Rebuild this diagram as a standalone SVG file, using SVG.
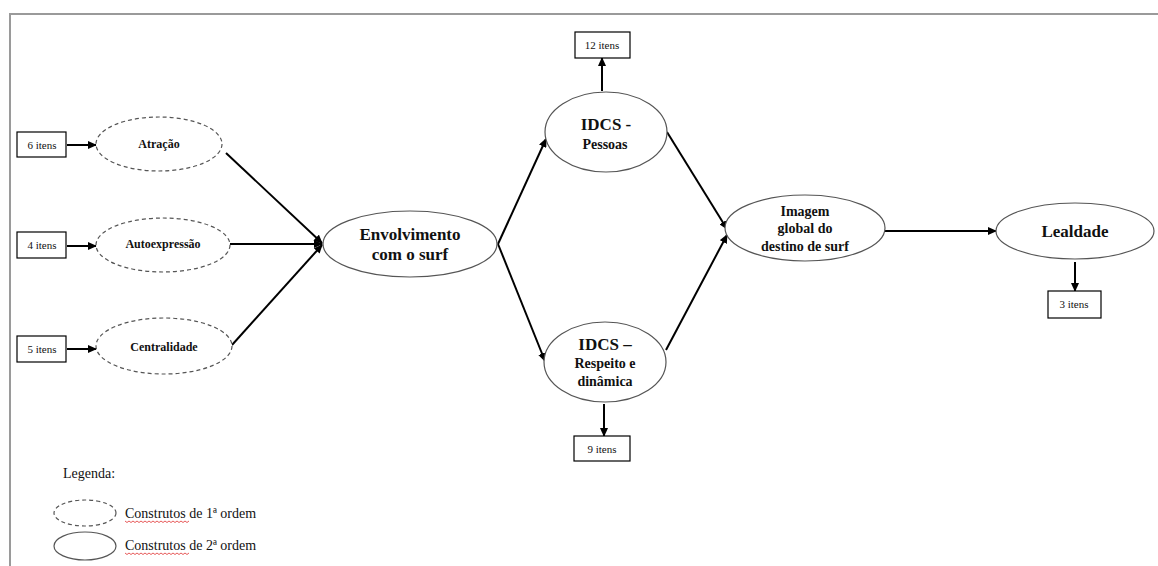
<svg xmlns="http://www.w3.org/2000/svg" width="1158" height="566" viewBox="0 0 1158 566">
  <defs>
    <marker id="arrow" markerWidth="9" markerHeight="8" refX="8" refY="4" orient="auto" markerUnits="userSpaceOnUse">
      <path d="M0,0 L9,4 L0,8 Z" fill="#000"/>
    </marker>
  </defs>
  <style>
    .frame { fill: none; stroke: #9a9a9a; stroke-width: 2; }
    .first { fill: #fff; stroke: #555; stroke-width: 1.2; stroke-dasharray: 4 3; }
    .second { fill: #fff; stroke: #555; stroke-width: 1.2; }
    .box { fill: #fff; stroke: #000; stroke-width: 1.2; }
    .edge { fill: none; stroke: #000; stroke-width: 2; marker-end: url(#arrow); }
    .line { fill: none; stroke: #000; stroke-width: 2; }
    text { font-family: "Liberation Serif", "Times New Roman", serif; fill: #111; text-anchor: middle; }
    .items { font-size: 11px; }
    .lbl1 { font-size: 12px; font-weight: bold; }
    .lbl2 { font-size: 14px; font-weight: bold; }
    .big { font-size: 17px; font-weight: bold; }
    .legend { font-size: 14px; text-anchor: start; }
    .squiggle { fill: none; stroke: #e03030; stroke-width: 0.8; }
  </style>

  <rect width="1158" height="566" fill="#fff"/>
  <path class="frame" d="M10,566 V14 H1158"/>

  <!-- connectors -->
  <g id="connectors">
    <line class="edge" x1="67" y1="145" x2="96" y2="145"/>
    <line class="edge" x1="67" y1="246" x2="96" y2="246"/>
    <line class="edge" x1="67" y1="349" x2="96" y2="349"/>
    <line class="edge" x1="226" y1="153" x2="322" y2="243"/>
    <line class="edge" x1="230" y1="244" x2="322" y2="244"/>
    <line class="edge" x1="232" y1="345" x2="322" y2="245"/>
    <line class="edge" x1="498" y1="244" x2="546" y2="139"/>
    <line class="edge" x1="498" y1="244" x2="545" y2="361"/>
    <line class="edge" x1="602" y1="91" x2="602" y2="58"/>
    <line class="edge" x1="604" y1="404" x2="604" y2="436"/>
    <line class="edge" x1="667" y1="132" x2="727" y2="229"/>
    <line class="edge" x1="666" y1="350" x2="727" y2="235"/>
    <line class="edge" x1="885" y1="231" x2="996" y2="231"/>
    <line class="edge" x1="1075" y1="262" x2="1075" y2="291"/>
  </g>

  <!-- indicator boxes -->
  <g id="items-atracao">
    <rect class="box" x="17" y="132" width="49" height="25"/>
    <text class="items" x="42" y="149">6 itens</text>
  </g>
  <g id="items-autoexpressao">
    <rect class="box" x="17" y="232" width="49" height="26"/>
    <text class="items" x="42" y="249">4 itens</text>
  </g>
  <g id="items-centralidade">
    <rect class="box" x="17" y="336" width="49" height="26"/>
    <text class="items" x="42" y="353">5 itens</text>
  </g>
  <g id="items-pessoas">
    <rect class="box" x="575" y="32" width="55" height="26"/>
    <text class="items" x="602" y="49">12 itens</text>
  </g>
  <g id="items-respeito">
    <rect class="box" x="574" y="436" width="56" height="25"/>
    <text class="items" x="602" y="453">9 itens</text>
  </g>
  <g id="items-lealdade">
    <rect class="box" x="1048" y="291" width="53" height="27"/>
    <text class="items" x="1074" y="308">3 itens</text>
  </g>

  <!-- first-order constructs -->
  <g id="atracao">
    <ellipse class="first" cx="159" cy="144" rx="63" ry="27"/>
    <text class="lbl1" x="159" y="148">Atração</text>
  </g>
  <g id="autoexpressao">
    <ellipse class="first" cx="163" cy="245" rx="67" ry="27"/>
    <text class="lbl1" x="163" y="248">Autoexpressão</text>
  </g>
  <g id="centralidade">
    <ellipse class="first" cx="164" cy="346" rx="68" ry="28"/>
    <text class="lbl1" x="164" y="351">Centralidade</text>
  </g>

  <!-- second-order constructs -->
  <g id="envolvimento">
    <ellipse class="second" cx="410" cy="244" rx="87" ry="33"/>
    <text class="big" x="410" y="240">Envolvimento</text>
    <text class="big" x="410" y="260">com o surf</text>
  </g>
  <g id="idcs-pessoas">
    <ellipse class="second" cx="606" cy="132" rx="61" ry="40"/>
    <text class="big" x="606" y="130">IDCS -</text>
    <text class="lbl2" x="605" y="149">Pessoas</text>
  </g>
  <g id="idcs-respeito">
    <ellipse class="second" cx="605" cy="362" rx="61" ry="40"/>
    <text class="big" x="605" y="350">IDCS –</text>
    <text class="lbl2" x="605" y="368">Respeito e</text>
    <text class="lbl2" x="605" y="386">dinâmica</text>
  </g>
  <g id="imagem">
    <ellipse class="second" cx="805" cy="228" rx="80" ry="33"/>
    <text class="lbl2" x="805" y="216">Imagem</text>
    <text class="lbl2" x="805" y="233">global do</text>
    <text class="lbl2" x="805" y="251">destino de surf</text>
  </g>
  <g id="lealdade">
    <ellipse class="second" cx="1075" cy="231" rx="79" ry="28"/>
    <text class="big" x="1075" y="237">Lealdade</text>
  </g>

  <!-- legend -->
  <g id="legend">
    <text class="legend" x="63" y="478">Legenda:</text>
    <ellipse class="first" cx="85" cy="513" rx="31" ry="13"/>
    <text class="legend" x="125" y="518">Construtos de 1ª ordem</text>
    <path class="squiggle" d="M125,521 l2,1.5 l2,-1.5 l2,1.5 l2,-1.5 l2,1.5 l2,-1.5 l2,1.5 l2,-1.5 l2,1.5 l2,-1.5 l2,1.5 l2,-1.5 l2,1.5 l2,-1.5 l2,1.5 l2,-1.5 l2,1.5 l2,-1.5 l2,1.5 l2,-1.5 l2,1.5 l2,-1.5 l2,1.5 l2,-1.5 l2,1.5 l2,-1.5 l2,1.5 l2,-1.5 l2,1.5 l2,-1.5 l2,1.5 l2,-1.5"/>
    <ellipse class="second" cx="85" cy="546" rx="31" ry="14"/>
    <text class="legend" x="125" y="550">Construtos de 2ª ordem</text>
    <path class="squiggle" d="M125,553 l2,1.5 l2,-1.5 l2,1.5 l2,-1.5 l2,1.5 l2,-1.5 l2,1.5 l2,-1.5 l2,1.5 l2,-1.5 l2,1.5 l2,-1.5 l2,1.5 l2,-1.5 l2,1.5 l2,-1.5 l2,1.5 l2,-1.5 l2,1.5 l2,-1.5 l2,1.5 l2,-1.5 l2,1.5 l2,-1.5 l2,1.5 l2,-1.5 l2,1.5 l2,-1.5 l2,1.5 l2,-1.5 l2,1.5 l2,-1.5"/>
  </g>
</svg>
